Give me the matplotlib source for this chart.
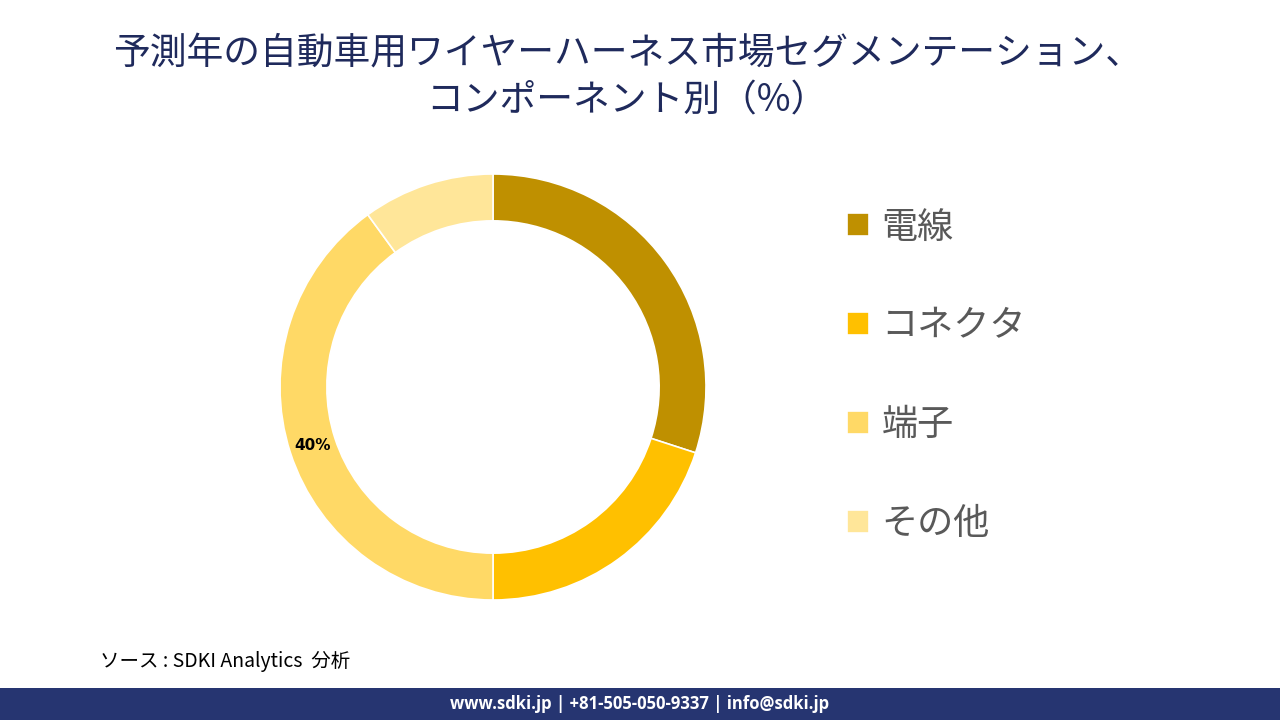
import matplotlib
matplotlib.use("Agg")
import matplotlib.pyplot as plt
from matplotlib.patches import Rectangle

plt.rcParams['font.family'] = ['Noto Sans CJK JP', 'DejaVu Sans']

segments = ["電線", "コネクタ", "端子", "その他"]
shares = [30, 20, 40, 10]
colors = ["#BF9000", "#FFC000", "#FFD966", "#FFE699"]
shown_label = 40

title = "予測年の自動車用ワイヤーハーネス市場セグメンテーション、\nコンポーネント別（%）"
source = "ソース : SDKI Analytics  分析"
footer = "www.sdki.jp | +81-505-050-9337 | info@sdki.jp"

fig = plt.figure(figsize=(12.8, 7.2), dpi=100)
fig.patch.set_facecolor("white")

# donut
ax = fig.add_axes([280 / 1280, 120 / 720, 426 / 1280, 426 / 720])
def pct_text(p):
    return f"{p:.0f}%" if round(p) == shown_label else ""

wedges, _, autotexts = ax.pie(shares, colors=colors, startangle=90, counterclock=False,
                              radius=1, autopct=pct_text, pctdistance=0.89,
                              wedgeprops=dict(width=0.22, edgecolor="white", linewidth=1.2))
for t in autotexts:
    t.set_fontsize(11)
    t.set_fontweight("bold")
    t.set_color("black")
    t.set_family(["DejaVu Sans"])
ax.set_xlim(-1, 1)
ax.set_ylim(-1, 1)
ax.set_aspect("equal")
ax.axis("off")

# legend
leg = fig.legend(wedges, segments, loc="upper left", bbox_to_anchor=(814 / 1280, 1 - 177 / 720),
                 frameon=False, fontsize=26, handlelength=0.62, handleheight=0.62,
                 handletextpad=0.35, labelspacing=1.74, labelcolor="#595959")

# title
fig.text(0.49, 1 - 77 / 720, title, ha="center", va="center", fontsize=26.5,
         color="#1F2A5C", linespacing=1.28)

# source
fig.text(100 / 1280, 1 - 662 / 720, source, ha="left", va="center", fontsize=14,
         style="italic", color="black")

# footer bar
fig.add_artist(Rectangle((0, 0), 1, 32 / 720, transform=fig.transFigure,
                         facecolor="#263571", edgecolor="none"))
fig.text(0.5, 16 / 720, footer, ha="center", va="center", fontsize=12,
         fontweight="bold", color="white", family=["Open Sans", "DejaVu Sans"])

fig.savefig("out.png", dpi=100, facecolor="white")
